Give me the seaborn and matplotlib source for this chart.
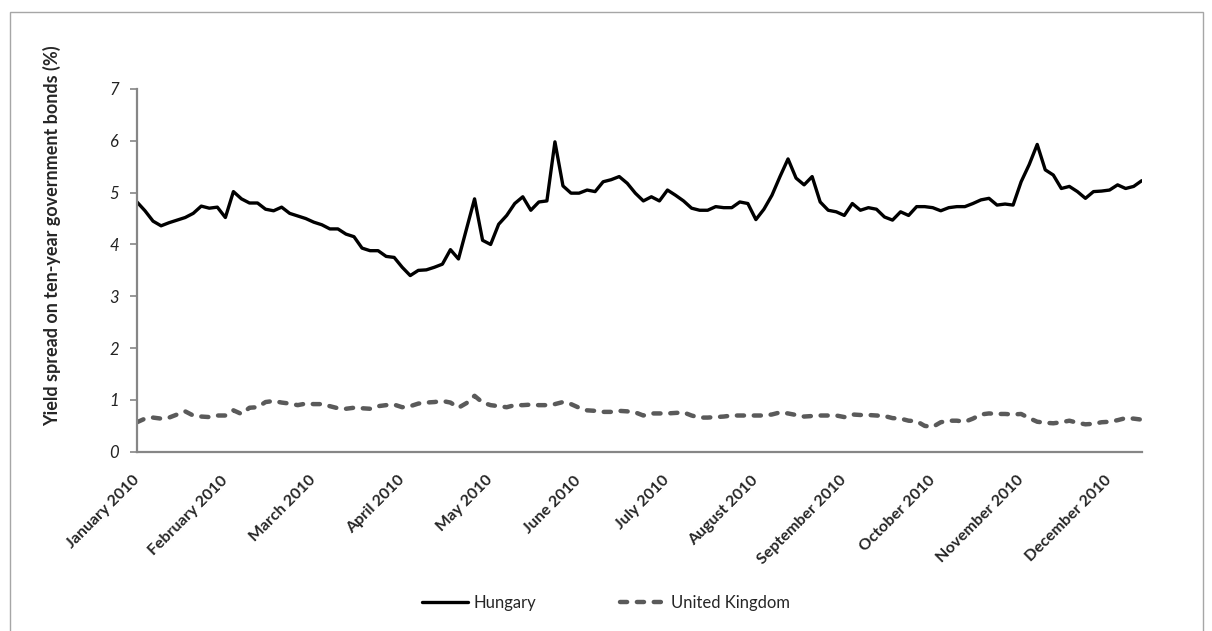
import matplotlib
matplotlib.use("Agg")
import matplotlib.pyplot as plt
from matplotlib.patches import Rectangle
import numpy as np
import pandas as pd
import seaborn as sns

# ---------------------------------------------------------------------------
# Data (one value every ~2 trading days)
# ---------------------------------------------------------------------------
months = [
    "January 2010", "February 2010", "March 2010", "April 2010",
    "May 2010", "June 2010", "July 2010", "August 2010",
    "September 2010", "October 2010", "November 2010", "December 2010",
]

hungary = [
    4.82, 4.65, 4.45, 4.36, 4.42, 4.47, 4.52, 4.60, 4.74, 4.70,
    4.72, 4.52, 5.02, 4.88, 4.80, 4.80, 4.68, 4.65, 4.72, 4.60,
    4.55, 4.50, 4.43, 4.38, 4.30, 4.30, 4.20, 4.15, 3.93, 3.88,
    3.88, 3.77, 3.75, 3.56, 3.40, 3.50, 3.51, 3.56, 3.62, 3.90,
    3.72, 4.30, 4.88, 4.08, 4.00, 4.39, 4.56, 4.79, 4.92, 4.66,
    4.82, 4.84, 5.98, 5.13, 4.99, 4.99, 5.05, 5.02, 5.21, 5.25,
    5.31, 5.18, 4.99, 4.84, 4.92, 4.84, 5.05, 4.95, 4.84, 4.70,
    4.66, 4.66, 4.73, 4.71, 4.71, 4.82, 4.79, 4.48, 4.68, 4.95,
    5.31, 5.65, 5.28, 5.15, 5.31, 4.82, 4.66, 4.63, 4.56, 4.79,
    4.66, 4.71, 4.68, 4.53, 4.47, 4.63, 4.56, 4.73, 4.73, 4.71,
    4.65, 4.71, 4.73, 4.73, 4.79, 4.86, 4.89, 4.76, 4.78, 4.76,
    5.21, 5.54, 5.93, 5.44, 5.34, 5.08, 5.12, 5.02, 4.89, 5.02,
    5.03, 5.05, 5.15, 5.08, 5.12, 5.23,
]

united_kingdom = [
    0.57, 0.64, 0.66, 0.64, 0.66, 0.72, 0.78, 0.70, 0.68, 0.67,
    0.70, 0.70, 0.80, 0.73, 0.85, 0.86, 0.96, 0.98, 0.95, 0.93,
    0.90, 0.93, 0.92, 0.92, 0.88, 0.84, 0.83, 0.85, 0.84, 0.83,
    0.88, 0.90, 0.91, 0.86, 0.88, 0.93, 0.95, 0.96, 0.98, 0.95,
    0.85, 0.94, 1.08, 0.95, 0.90, 0.88, 0.86, 0.90, 0.90, 0.91,
    0.90, 0.90, 0.92, 0.96, 0.92, 0.85, 0.80, 0.79, 0.77, 0.77,
    0.79, 0.78, 0.76, 0.70, 0.74, 0.74, 0.74, 0.75, 0.76, 0.70,
    0.66, 0.66, 0.67, 0.68, 0.70, 0.70, 0.70, 0.70, 0.70, 0.72,
    0.76, 0.74, 0.71, 0.68, 0.69, 0.70, 0.70, 0.70, 0.67, 0.72,
    0.71, 0.71, 0.70, 0.69, 0.65, 0.64, 0.60, 0.59, 0.50, 0.48,
    0.57, 0.60, 0.60, 0.58, 0.64, 0.72, 0.74, 0.73, 0.73, 0.72,
    0.73, 0.65, 0.58, 0.56, 0.55, 0.57, 0.60, 0.56, 0.53, 0.54,
    0.57, 0.58, 0.61, 0.65, 0.64, 0.62,
]

POINTS_PER_MONTH = 11  # category-axis label interval

# ---------------------------------------------------------------------------
# Plot
# ---------------------------------------------------------------------------
sns.set_style("white")
plt.rcParams["font.family"] = ["Lato", "DejaVu Sans"]
plt.rcParams["lines.dash_capstyle"] = "round"
plt.rcParams["lines.solid_capstyle"] = "round"

n = len(hungary)
df = pd.DataFrame({
    "idx": np.tile(np.arange(n), 2),
    "spread": hungary + united_kingdom,
    "country": ["Hungary"] * n + ["United Kingdom"] * n,
})

fig = plt.figure(figsize=(12.12, 6.31), dpi=100)
ax = fig.add_axes([0.113, 0.284, 0.829, 0.575])

sns.lineplot(
    data=df, x="idx", y="spread", hue="country", style="country",
    palette={"Hungary": "#000000", "United Kingdom": "#5a5a5a"},
    dashes={"Hungary": "", "United Kingdom": (1.6, 2.2)},
    linewidth=2.6, legend=False, ax=ax,
)
# UK line a touch heavier, as in the original
ax.lines[1].set_linewidth(3.2)
ax.lines[0].set_linewidth(2.4)

ax.set_xlim(0, n - 1)
ax.set_ylim(0, 7)
ax.set_yticks(range(0, 8))
ax.set_yticklabels([str(v) for v in range(0, 8)], fontstyle="italic",
                   fontsize=12, color="#222222")

ticks = np.arange(len(months)) * POINTS_PER_MONTH
ax.set_xticks(ticks)
ax.set_xticklabels(months, rotation=45, ha="right", va="center",
                   rotation_mode="anchor", fontweight="bold", fontsize=11.5)
ax.tick_params(axis="x", length=0, pad=19)
ax.tick_params(axis="y", length=5, width=1.2, color="#868686", direction="out",
               pad=8, left=True)

ax.set_xlabel("")
ax.set_ylabel("Yield spread on ten-year government bonds (%)",
              fontweight="bold", fontsize=13)
ax.yaxis.set_label_coords(-0.075, 0.595)

for side in ("top", "right"):
    ax.spines[side].set_visible(False)
for side in ("left", "bottom"):
    ax.spines[side].set_color("#868686")
    ax.spines[side].set_linewidth(1.6)

# legend at the bottom centre
handles = [
    plt.Line2D([], [], color="#000000", linewidth=2.4),
    plt.Line2D([], [], color="#5a5a5a", linewidth=3.2, linestyle=(0, (1.6, 2.2)),
               dash_capstyle="round"),
]
fig.legend(handles, ["Hungary", "United Kingdom"], loc="center",
           bbox_to_anchor=(0.5, 0.044), ncol=2, frameon=False, fontsize=12,
           handlelength=2.8, handletextpad=0.3, columnspacing=5.0)

# chart-area border
fig.patches.append(Rectangle((10 / 1212, -0.02), 1193 / 1212, 1.0 - 12 / 631 + 0.02,
                             transform=fig.transFigure, fill=False,
                             edgecolor="#a6a6a6", linewidth=1.0))

fig.savefig("out.png", dpi=100)
